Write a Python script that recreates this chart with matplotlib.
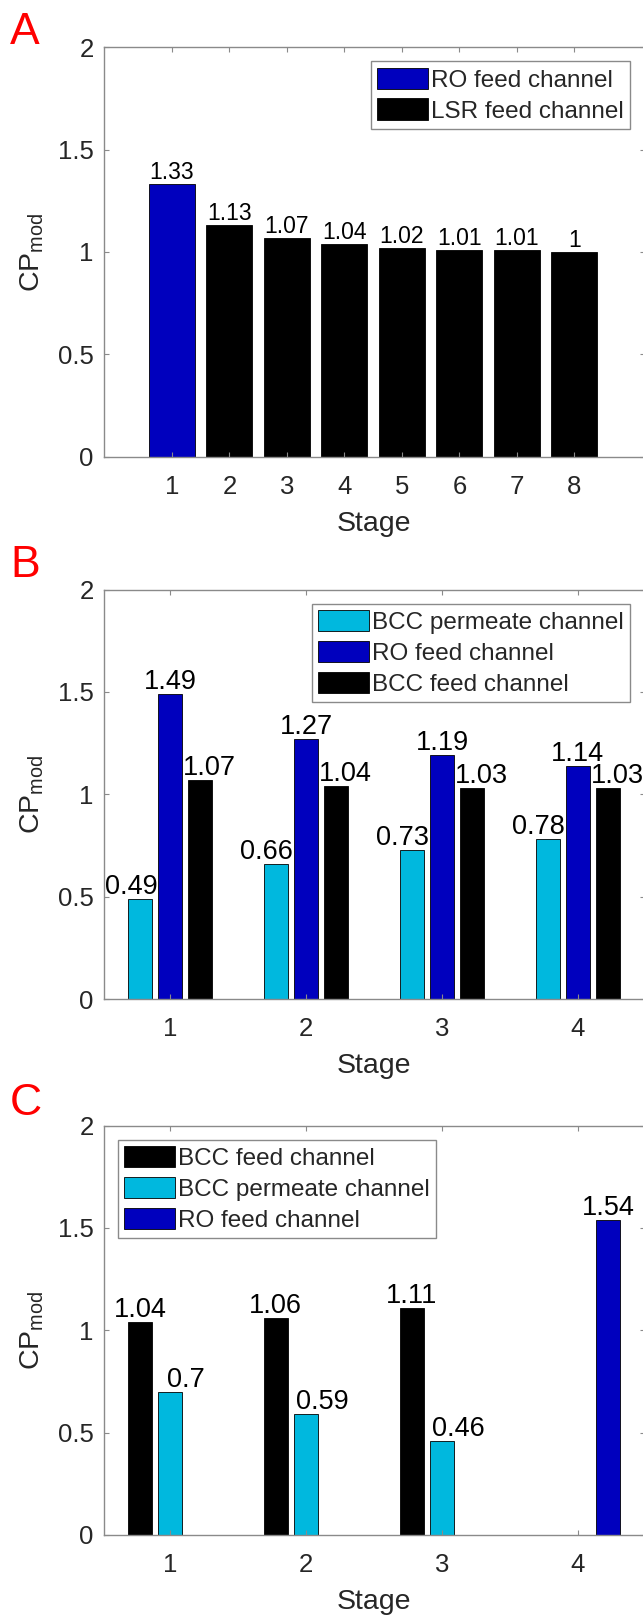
import matplotlib
matplotlib.use("Agg")
import matplotlib.pyplot as plt
from matplotlib.ticker import FuncFormatter

plt.rcParams["font.family"] = ["Liberation Sans", "DejaVu Sans"]
plt.rcParams["mathtext.fontset"] = "custom"
plt.rcParams["mathtext.rm"] = "Liberation Sans"
plt.rcParams["mathtext.it"] = "Liberation Sans:italic"
plt.rcParams["mathtext.bf"] = "Liberation Sans:bold"

# ---- data -------------------------------------------------------------
# Panel A: one RO stage followed by seven LSR stages
ro_stage_a = [1]
ro_a = [1.33]
lsr_stage_a = [2, 3, 4, 5, 6, 7, 8]
lsr_a = [1.13, 1.07, 1.04, 1.02, 1.01, 1.01, 1.00]
stage_ticks_a = [1, 2, 3, 4, 5, 6, 7, 8]

# Panel B: BCC stages with RO feed
stages_b = [1, 2, 3, 4]
bcc_perm_b = [0.49, 0.66, 0.73, 0.78]
ro_b = [1.49, 1.27, 1.19, 1.14]
bcc_feed_b = [1.07, 1.04, 1.03, 1.03]

# Panel C: three BCC stages, RO in the last stage (None = no bar)
stages_c = [1, 2, 3, 4]
bcc_feed_c = [1.04, 1.06, 1.11, None]
bcc_perm_c = [0.70, 0.59, 0.46, None]
ro_c = [None, None, None, 1.54]

y_ticks = [0, 0.5, 1, 1.5, 2]

# ---- style ------------------------------------------------------------
C_RO = "#0000BE"
C_BLACK = "#000000"
C_CYAN = "#00B8DE"
AX_GRAY = "#8a8a8a"
TXT = "#262626"

FS_TICK = 18.5
FS_LABEL = 20.5
FS_LEGEND = 17.5
FS_VAL_A = 16.5
FS_VAL_BC = 19.5

W, H = 643, 1616
fig = plt.figure(figsize=(W / 100, H / 100), dpi=100)

ax_left = 103.5 / W
ax_width = 541 / W
ax_height = 409.5 / H
bottoms_px = [456.7, 999.0, 1535.0]


def make_axes(bottom_px):
    return fig.add_axes([ax_left, 1 - bottom_px / H, ax_width, ax_height])


def style_axes(ax, xticks):
    ax.set_ylim(0, 2)
    ax.set_yticks(y_ticks)
    ax.set_xticks(xticks)
    ax.yaxis.set_major_formatter(FuncFormatter(lambda v, p: f"{v:g}"))
    ax.tick_params(axis="both", direction="in", length=3.6, width=0.8,
                   color=AX_GRAY, labelcolor=TXT, labelsize=FS_TICK,
                   top=True, right=True)
    ax.tick_params(axis="x", pad=13)
    ax.tick_params(axis="y", pad=7)
    for s in ax.spines.values():
        s.set_color(AX_GRAY)
        s.set_linewidth(1.0)
    ax.set_xlabel("Stage", fontsize=FS_LABEL, color=TXT, va="top")
    ax.xaxis.set_label_coords(0.5, -54 / 409.5)
    ax.set_ylabel(r"CP$_{\mathrm{mod}}$", fontsize=FS_LABEL, color=TXT)
    ax.yaxis.set_label_coords(-58 / 541, 0.5)


def label_bars(ax, xs, vals, size, dx=0.0):
    for x, v in zip(xs, vals):
        if v is None:
            continue
        ax.annotate(f"{v:g}", xy=(x, v), xytext=(dx, 3.6),
                    textcoords="offset points", ha="center", va="baseline",
                    fontsize=size, color="black")


def grouped(ax, xs, vals, offset, width, color, label):
    px = [x + offset for x, v in zip(xs, vals) if v is not None]
    pv = [v for v in vals if v is not None]
    return ax.bar(px, pv, width=width, color=color, edgecolor="black",
                  linewidth=0.6, label=label)


def add_legend(ax, handles, loc):
    leg = ax.legend(handles=handles, loc=loc, fontsize=FS_LEGEND,
                    handlelength=2.1, handleheight=0.98, labelspacing=0.28,
                    handletextpad=0.12, borderpad=0.26, borderaxespad=0.58,
                    fancybox=False, framealpha=1.0, edgecolor=AX_GRAY)
    leg.get_frame().set_linewidth(1.0)
    for t in leg.get_texts():
        t.set_color(TXT)
    return leg


# ---- panel A ----------------------------------------------------------
axA = make_axes(bottoms_px[0])
hA1 = axA.bar(ro_stage_a, ro_a, width=0.8, color=C_RO, edgecolor="black",
              linewidth=0.6, label="RO feed channel")
hA2 = axA.bar(lsr_stage_a, lsr_a, width=0.8, color=C_BLACK, edgecolor="black",
              linewidth=0.6, label="LSR feed channel")
axA.set_xlim(-0.19, 9.22)
style_axes(axA, stage_ticks_a)
label_bars(axA, ro_stage_a, ro_a, FS_VAL_A)
label_bars(axA, lsr_stage_a, lsr_a, FS_VAL_A)
add_legend(axA, [hA1, hA2], "upper right")

# ---- panel B ----------------------------------------------------------
g_off, g_w = 0.222, 0.178
axB = make_axes(bottoms_px[1])
hB1 = grouped(axB, stages_b, bcc_perm_b, -g_off, g_w, C_CYAN, "BCC permeate channel")
hB2 = grouped(axB, stages_b, ro_b, 0.0, g_w, C_RO, "RO feed channel")
hB3 = grouped(axB, stages_b, bcc_feed_b, g_off, g_w, C_BLACK, "BCC feed channel")
axB.set_xlim(0.51, 4.49)
style_axes(axB, stages_b)
label_bars(axB, [x - g_off for x in stages_b], bcc_perm_b, FS_VAL_BC, dx=-6.5)
label_bars(axB, stages_b, ro_b, FS_VAL_BC)
label_bars(axB, [x + g_off for x in stages_b], bcc_feed_b, FS_VAL_BC, dx=6.8)
add_legend(axB, [hB1, hB2, hB3], "upper right")

# ---- panel C ----------------------------------------------------------
axC = make_axes(bottoms_px[2])
hC1 = grouped(axC, stages_c, bcc_feed_c, -g_off, g_w, C_BLACK, "BCC feed channel")
hC2 = grouped(axC, stages_c, bcc_perm_c, 0.0, g_w, C_CYAN, "BCC permeate channel")
hC3 = grouped(axC, stages_c, ro_c, g_off, g_w, C_RO, "RO feed channel")
axC.set_xlim(0.51, 4.49)
style_axes(axC, stages_c)
label_bars(axC, [x - g_off for x in stages_c], bcc_feed_c, FS_VAL_BC)
label_bars(axC, stages_c, bcc_perm_c, FS_VAL_BC, dx=11.5)
label_bars(axC, [x + g_off for x in stages_c], ro_c, FS_VAL_BC)
add_legend(axC, [hC1, hC2, hC3], "upper left")

# ---- panel letters ----------------------------------------------------
for letter, top_px in zip(["A", "B", "C"], [12, 545, 1083]):
    fig.text(10 / W, 1 - top_px / H, letter, color="red", fontsize=32,
             ha="left", va="top")

fig.savefig("out.png", dpi=100)
